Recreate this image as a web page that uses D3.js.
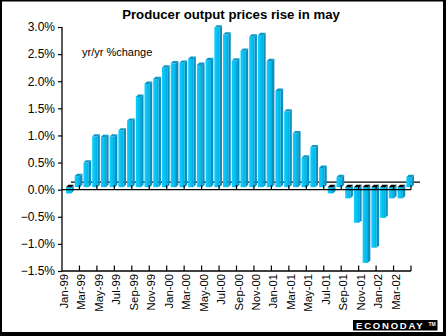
<!DOCTYPE html>
<html><head><meta charset="utf-8">
<script src="https://cdn.jsdelivr.net/npm/d3@7"></script>
<style>
html,body{margin:0;padding:0;background:#fff;}
svg{display:block;font-family:"Liberation Sans",Arial,sans-serif;}
</style></head>
<body>
<svg id="chart" width="446" height="336"></svg>
<script>
const title = "Producer output prices rise in may";
const unitNote = "yr/yr %change";
const categories = ["Jan-99","Feb-99","Mar-99","Apr-99","May-99","Jun-99","Jul-99","Aug-99","Sep-99","Oct-99","Nov-99","Dec-99",
  "Jan-00","Feb-00","Mar-00","Apr-00","May-00","Jun-00","Jul-00","Aug-00","Sep-00","Oct-00","Nov-00","Dec-00",
  "Jan-01","Feb-01","Mar-01","Apr-01","May-01","Jun-01","Jul-01","Aug-01","Sep-01","Oct-01","Nov-01","Dec-01",
  "Jan-02","Feb-02","Mar-02","Apr-02"];
const values = [-0.07,0.25,0.50,0.98,0.97,0.98,1.09,1.27,1.71,1.95,2.04,2.25,
  2.33,2.34,2.41,2.30,2.39,2.99,2.86,2.38,2.56,2.82,2.85,2.37,
  1.82,1.44,1.04,0.59,0.78,0.40,-0.07,0.23,-0.16,-0.61,-1.35,-1.07,
  -0.52,-0.16,-0.16,0.23];
const xLabels = ["Jan-99","Mar-99","May-99","Jul-99","Sep-99","Nov-99","Jan-00","Mar-00","May-00","Jul-00",
  "Sep-00","Nov-00","Jan-01","Mar-01","May-01","Jul-01","Sep-01","Nov-01","Jan-02","Mar-02"];
const yTicks = [-1.5,-1.0,-0.5,0.0,0.5,1.0,1.5,2.0,2.5,3.0];
const brand = "ECONODAY";

const svg = d3.select("#chart");
const x = d3.scaleBand().domain(categories).range([62, 411]).padding(0);
const y = d3.scaleLinear().domain([-1.5, 3.0]).range([271, 27]);

const defs = svg.append("defs");
const g1 = defs.append("linearGradient").attr("id","front").attr("x1","0").attr("x2","1").attr("y1","0").attr("y2","0");
g1.append("stop").attr("offset","0").attr("stop-color","#12cdfb");
g1.append("stop").attr("offset","0.6").attr("stop-color","#04c0f2");
g1.append("stop").attr("offset","1").attr("stop-color","#02a6da");

// frame
svg.append("rect").attr("x",0).attr("y",0).attr("width",446).attr("height",336).attr("fill","#000");
svg.append("rect").attr("x",2).attr("y",1.5).attr("width",441).attr("height",330.5).attr("fill","#fff");

// title
svg.append("text").attr("x",231).attr("y",19).attr("text-anchor","middle")
  .attr("font-size",13.2).attr("font-weight","bold").attr("fill","#000").text(title);
svg.append("text").attr("x",82).attr("y",55.5).attr("font-size",11).attr("fill","#000").text(unitNote);

const dx = 2.4, dy = 2.4, w = 5.3, off = 4;
const base = y(0) - 2.5;
const depthX = 9, depthY = 7.5;

// back zero line
svg.append("line").attr("x1",62+depthX).attr("x2",411+depthX)
  .attr("y1",y(0)-depthY).attr("y2",y(0)-depthY).attr("stroke","#000").attr("stroke-width",1.2);

const data = categories.map((c,i)=>({c, v: values[i]}));
const bars = svg.append("g").selectAll("g").data(data).join("g");
bars.each(function(d){
  const g = d3.select(this);
  const x0 = x(d.c) + off;
  const top = d.v >= 0 ? y(d.v) : base;
  const bot = d.v >= 0 ? base : y(d.v);
  g.append("path").attr("d", `M${x0+w},${bot} L${x0+w},${top} L${x0+w+dx},${top-dy} L${x0+w+dx},${bot-dy} Z`)
    .attr("fill","#0a8fc0");
  g.append("rect").attr("x",x0).attr("y",top).attr("width",w).attr("height",Math.max(0,bot-top)).attr("fill","url(#front)");
  g.append("path").attr("d", `M${x0},${top} L${x0+w},${top} L${x0+w+dx},${top-dy} L${x0+dx},${top-dy} Z`)
    .attr("fill", d.v >= 0 ? "#0898c8" : "#000");
});

// front zero line with ticks
svg.append("line").attr("x1",62).attr("x2",411).attr("y1",y(0)).attr("y2",y(0)).attr("stroke","#000").attr("stroke-width",1.3);
const tickCats = categories.filter((c,i)=>i%2===0).slice(1);
svg.append("g").selectAll("line").data(tickCats).join("line")
  .attr("x1",d=>x(d)).attr("x2",d=>x(d)).attr("y1",y(0)).attr("y2",y(0)-4.5).attr("stroke","#000").attr("stroke-width",1.2);
svg.append("line").attr("x1",411).attr("x2",411).attr("y1",y(0)).attr("y2",y(0)-4.5).attr("stroke","#000").attr("stroke-width",1.2);

// y axis
const yAxis = svg.append("g").attr("transform","translate(62,0)")
  .call(d3.axisLeft(y).tickValues(yTicks).tickSize(4).tickPadding(3).tickFormat(d=>d3.format(".1f")(d)+"%"));
yAxis.select(".domain").attr("stroke","#000").attr("stroke-width",1.3).attr("d","M0,27V271");
yAxis.selectAll(".tick line").attr("stroke","#000").attr("stroke-width",1.2);
yAxis.selectAll("text").attr("font-size",12).attr("fill","#000").attr("font-family","Liberation Sans, Arial, sans-serif");

// bottom axis
svg.append("line").attr("x1",62).attr("x2",411).attr("y1",271).attr("y2",271).attr("stroke","#000").attr("stroke-width",1.3);
svg.append("g").selectAll("line").data(tickCats).join("line")
  .attr("x1",d=>x(d)).attr("x2",d=>x(d)).attr("y1",271).attr("y2",265.5).attr("stroke","#000").attr("stroke-width",1.2);
svg.append("line").attr("x1",411).attr("x2",411).attr("y1",271).attr("y2",265.5).attr("stroke","#000").attr("stroke-width",1.2);

// x labels
svg.append("g").selectAll("text").data(xLabels).join("text")
  .attr("transform", d=>`translate(${x(d)+2},274) rotate(-90)`)
  .attr("text-anchor","end").attr("dominant-baseline","central")
  .attr("font-size",11.3).attr("fill","#000").text(d=>d);

// brand logo
svg.append("rect").attr("x",353).attr("y",320).attr("width",84.5).attr("height",10.5).attr("fill","#000");
svg.append("text").attr("x",356).attr("y",329).attr("font-size",9.5).attr("font-weight","bold")
  .attr("letter-spacing",1.8).attr("fill","#fff").text(brand);
svg.append("text").attr("x",428.5).attr("y",326).attr("font-size",5).attr("font-weight","bold").attr("fill","#fff").text("TM");
</script>
</body></html>
